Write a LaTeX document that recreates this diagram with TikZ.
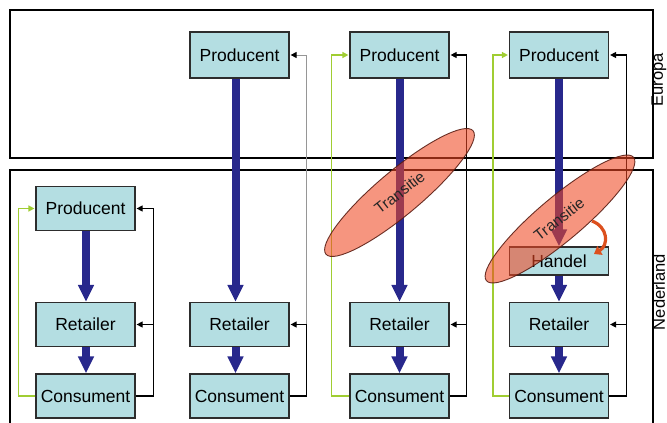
\documentclass[tikz,border=0pt]{standalone}
\usepackage{fontspec}
\setmainfont{Liberation Sans}
\usetikzlibrary{arrows.meta,shapes.geometric}
\definecolor{boxfill}{RGB}{180,222,226}
\definecolor{boxline}{RGB}{45,45,45}
\definecolor{flowblue}{RGB}{40,40,140}
\definecolor{loopgreen}{RGB}{160,205,50}
\definecolor{transfill}{RGB}{240,72,35}
\definecolor{transline}{RGB}{90,30,20}
\definecolor{swapred}{RGB}{220,80,30}
\definecolor{softgray}{RGB}{150,150,150}

\begin{document}
\begin{tikzpicture}[x=1pt,y=-1pt,
  actor/.style={draw=boxline, line width=1.2pt, fill=boxfill,
    minimum width=99pt, minimum height=44pt, inner sep=0pt,
    font=\fontsize{17.5}{20}\selectfont},
  region/.style={draw=black, line width=1.3pt},
  regionlabel/.style={rotate=90, inner sep=0pt, font=\fontsize{16.5}{19}\selectfont},
  flow/.style={draw=flowblue, line width=8pt,
    -{Triangle[width=15pt,length=17pt]}},
  feedback/.style={draw=black, line width=1.1pt,
    -{Triangle[width=6pt,length=6pt]}, shorten >=1pt},
  plainline/.style={draw=black, line width=1.1pt},
  greenloop/.style={draw=loopgreen, line width=1.8pt,
    -{Triangle[width=6pt,length=6pt]}, shorten >=1pt},
  transit/.style={ellipse, draw=transline, line width=0.9pt,
    fill=transfill, fill opacity=0.58, draw opacity=0.9,
    minimum width=192pt, minimum height=44pt, inner sep=0pt, rotate=40},
  transitlabel/.style={rotate=38, inner sep=0pt, text=black!85,
    font=\fontsize{15.5}{17}\selectfont},
  swap/.style={draw=swapred, line width=3.2pt,
    -{Triangle[width=10pt,length=7pt]}}
]
\useasboundingbox (0,0) rectangle (667,423);

% the two regions
\draw[region] (10,10) rectangle (653,158);
\draw[region] (10,170) rectangle (653,440);
\node[regionlabel] (eu) at (659,80) {Europa};
\node[regionlabel] (nl) at (659,292) {Nederland};

% chain 1: everything inside the Netherlands
\node[actor] (p1) at (85.5,208.5) {Producent};
\node[actor] (r1) at (85.5,324.5) {Retailer};
\node[actor] (c1) at (85.5,396) {Consument};

% chain 2: European producer, no loop back
\node[actor, minimum height=46pt] (p2) at (239.5,55) {Producent};
\node[actor] (r2) at (239.5,324.5) {Retailer};
\node[actor] (c2) at (239.5,396) {Consument};

% chain 3: European producer with transition
\node[actor, minimum height=46pt] (p3) at (399.5,55) {Producent};
\node[actor] (r3) at (399.5,324.5) {Retailer};
\node[actor] (c3) at (399.5,396) {Consument};

% chain 4: European producer, transition via trade
\node[actor, minimum height=46pt] (p4) at (559,55) {Producent};
\node[actor, minimum height=28pt] (h4) at (559,261) {Handel};
\node[actor] (r4) at (559,324.5) {Retailer};
\node[actor] (c4) at (559,396) {Consument};

% goods flow
\draw[flow] ([xshift=0.5pt]p1.south) -- ([xshift=0.5pt]r1.north);
\draw[flow] ([xshift=0.5pt]r1.south) -- ([xshift=0.5pt]c1.north);
\draw[flow] ([xshift=-4pt]p2.south) -- ([xshift=-4pt]r2.north);
\draw[flow] ([xshift=-4pt]r2.south) -- ([xshift=-4pt]c2.north);
\draw[flow] (p3.south) -- (r3.north);
\draw[flow] (r3.south) -- (c3.north);
\draw[flow] (p4.south) -- (h4.north);
\draw[flow] (h4.south) -- (r4.north);
\draw[flow] (r4.south) -- (c4.north);

% information feedback from the consumer
\draw[feedback] (c1.east) -- ++(17.5,0) coordinate (k1) |- (p1.east);
\draw[feedback] (k1 |- r1.east) -- (r1.east);

\draw[plainline] (c2.east) -- ++(17,0) coordinate (k2) -- (k2 |- r2.east);
\draw[feedback, draw=softgray, line width=0.9pt, -{Triangle[width=6pt,length=6pt,black]}]
  (k2 |- r2.east) |- (p2.east);
\draw[feedback] (k2 |- r2.east) -- (r2.east);

\draw[feedback] (c3.east) -- ++(17,0) coordinate (k3) |- (p3.east);
\draw[feedback] (k3 |- r3.east) -- (r3.east);

\draw[feedback] (c4.east) -- ++(17,0) coordinate (k4) |- (p4.east);
\draw[feedback] (k4 |- r4.east) -- (r4.east);

% consumer loops back to the producer
\draw[greenloop] (c1.west) -- ++(-17,0) |- (p1.west);
\draw[greenloop] (c3.west) -- ++(-18,0) |- (p3.west);
\draw[greenloop] (c4.west) -- ++(-16,0) |- (p4.west);

% transition zones
\node[transit] (t3) at (399.5,192.5) {};
\node[transitlabel] (t3l) at (t3.center) {Transitie};
\node[transit] (t4) at (560,219) {};
\node[transitlabel] (t4l) at ([xshift=-1pt]t4.center) {Transitie};

% trade takes over
\coordinate (s4a) at (592,221);
\coordinate (s4b) at (594,254);
\draw[swap] (s4a) .. controls (608,227) and (609,245) .. (s4b);
\end{tikzpicture}
\end{document}
